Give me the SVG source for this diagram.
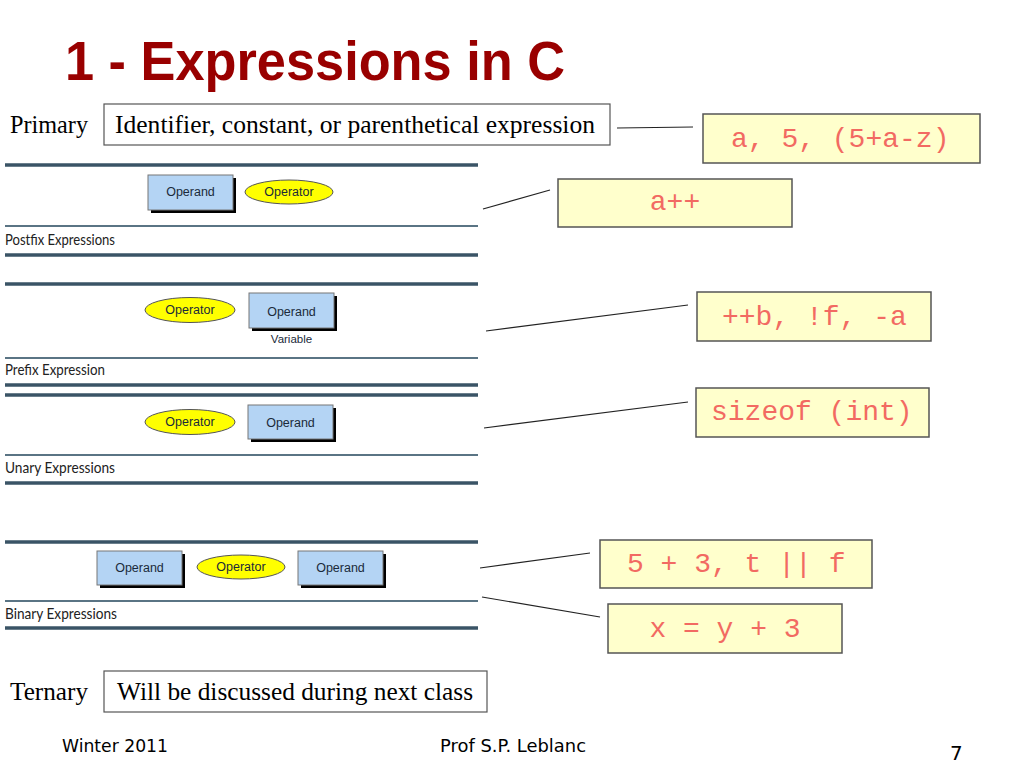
<svg xmlns="http://www.w3.org/2000/svg" width="1024" height="768" viewBox="0 0 1024 768">
<style>
.title{font-family:"Liberation Sans",Arial,sans-serif;font-weight:bold;font-size:55px;fill:#990000}
.serif{font-family:"Liberation Serif","Times New Roman",serif;font-size:25px;fill:#000}
.box{fill:#fff;stroke:#555;stroke-width:1.2}
.ex{fill:#FFFFCC;stroke:#555;stroke-width:1.5}
.mono{font-family:"Liberation Mono","Courier New",monospace;font-size:28px;fill:#F26A62}
.thick{stroke:#3A5466;stroke-width:3.5}
.thin{stroke:#5A7484;stroke-width:2}
.sec{font-family:"Lato","Open Sans",sans-serif;font-size:15px;fill:#222}
.opd{fill:#B4D4F4;stroke:#777;stroke-width:1}
.shadow{fill:#000}
.opr{fill:#FFFF00;stroke:#555;stroke-width:1}
.small{font-family:"Liberation Sans",Arial,sans-serif;font-size:12.5px;fill:#1a2a3a}
.conn line{stroke:#222;stroke-width:1.2}
.foot{font-family:"DejaVu Sans",Tahoma,sans-serif;font-size:18px;fill:#000}
</style>
<rect width="1024" height="768" fill="#fff"/>
<text class="title" x="65" y="80" textLength="500" lengthAdjust="spacingAndGlyphs">1 - Expressions in C</text>

<g id="primary">
<text class="serif" x="10" y="133" textLength="78" lengthAdjust="spacingAndGlyphs">Primary</text>
<rect class="box" x="104" y="104" width="506" height="41"/>
<text class="serif" x="115" y="133" textLength="480" lengthAdjust="spacingAndGlyphs">Identifier, constant, or parenthetical expression</text>
</g>
<g id="ex-primary">
<rect class="ex" x="703" y="114" width="277" height="49"/>
<text class="mono" x="731" y="147">a, 5, (5+a-z)</text>
</g>

<g id="postfix">
<line class="thick" x1="5" y1="165" x2="478" y2="165"/>
<rect class="shadow" x="151" y="178" width="85" height="35"/>
<rect class="opd" x="148" y="175" width="85" height="35"/>
<text class="small" x="190.5" y="196" text-anchor="middle">Operand</text>
<ellipse class="opr" cx="289" cy="192" rx="44" ry="12"/>
<text class="small" x="289" y="196" text-anchor="middle">Operator</text>
<line class="thin" x1="5" y1="226" x2="478" y2="226"/>
<text class="sec" x="5" y="245" textLength="110" lengthAdjust="spacingAndGlyphs">Postfix Expressions</text>
<line class="thick" x1="5" y1="255" x2="478" y2="255"/>
</g>
<g id="ex-postfix">
<rect class="ex" x="558" y="179" width="234" height="48"/>
<text class="mono" x="675" y="210" text-anchor="middle">a++</text>
</g>

<g id="prefix">
<line class="thick" x1="5" y1="284" x2="478" y2="284"/>
<ellipse class="opr" cx="190" cy="310" rx="45" ry="12.5"/>
<text class="small" x="190" y="314" text-anchor="middle">Operator</text>
<rect class="shadow" x="252" y="296" width="85" height="35"/>
<rect class="opd" x="249" y="293" width="85" height="35"/>
<text class="small" x="291.5" y="316" text-anchor="middle">Operand</text>
<text class="small" x="291.5" y="343" text-anchor="middle" style="font-size:11.5px">Variable</text>
<line class="thin" x1="5" y1="358" x2="478" y2="358"/>
<text class="sec" x="5" y="375" textLength="100" lengthAdjust="spacingAndGlyphs">Prefix Expression</text>
<line class="thick" x1="5" y1="385" x2="478" y2="385"/>
</g>
<g id="ex-prefix">
<rect class="ex" x="697" y="292" width="234" height="49"/>
<text class="mono" x="722" y="325">++b, !f, -a</text>
</g>

<g id="unary">
<line class="thick" x1="5" y1="395" x2="478" y2="395"/>
<ellipse class="opr" cx="190" cy="422" rx="45" ry="12.5"/>
<text class="small" x="190" y="426" text-anchor="middle">Operator</text>
<rect class="shadow" x="251" y="408" width="85" height="34"/>
<rect class="opd" x="248" y="405" width="85" height="34"/>
<text class="small" x="290.5" y="427" text-anchor="middle">Operand</text>
<line class="thin" x1="5" y1="455" x2="478" y2="455"/>
<text class="sec" x="5" y="473" textLength="110" lengthAdjust="spacingAndGlyphs">Unary Expressions</text>
<line class="thick" x1="5" y1="483" x2="478" y2="483"/>
</g>
<g id="ex-unary">
<rect class="ex" x="696" y="388" width="233" height="49"/>
<text class="mono" x="711" y="420">sizeof (int)</text>
</g>

<g id="binary">
<line class="thick" x1="5" y1="542" x2="478" y2="542"/>
<rect class="shadow" x="100" y="554" width="85" height="34"/>
<rect class="opd" x="97" y="551" width="85" height="34"/>
<text class="small" x="139.5" y="572" text-anchor="middle">Operand</text>
<ellipse class="opr" cx="241" cy="567" rx="44" ry="12"/>
<text class="small" x="241" y="571" text-anchor="middle">Operator</text>
<rect class="shadow" x="301" y="554" width="85" height="34"/>
<rect class="opd" x="298" y="551" width="85" height="34"/>
<text class="small" x="340.5" y="572" text-anchor="middle">Operand</text>
<line class="thin" x1="5" y1="601" x2="478" y2="601"/>
<text class="sec" x="5" y="619" textLength="112" lengthAdjust="spacingAndGlyphs">Binary Expressions</text>
<line class="thick" x1="5" y1="628" x2="478" y2="628"/>
</g>
<g id="ex-binary1">
<rect class="ex" x="600" y="540" width="272" height="48"/>
<text class="mono" x="627" y="572">5 + 3, t || f</text>
</g>
<g id="ex-binary2">
<rect class="ex" x="608" y="604" width="234" height="49"/>
<text class="mono" x="725" y="637" text-anchor="middle">x = y + 3</text>
</g>

<g id="ternary">
<text class="serif" x="10" y="700" textLength="78" lengthAdjust="spacingAndGlyphs">Ternary</text>
<rect class="box" x="104" y="671" width="383" height="41"/>
<text class="serif" x="117" y="700" textLength="356" lengthAdjust="spacingAndGlyphs">Will be discussed during next class</text>
</g>

<g class="conn" id="connectors">
<line x1="617" y1="128" x2="693" y2="127"/>
<line x1="483" y1="209" x2="550" y2="190"/>
<line x1="486" y1="331" x2="688" y2="305"/>
<line x1="484" y1="428" x2="688" y2="402"/>
<line x1="480" y1="568" x2="590" y2="553"/>
<line x1="482" y1="597" x2="600" y2="617"/>
</g>

<g id="footer">
<text class="foot" x="62" y="752" textLength="106" lengthAdjust="spacingAndGlyphs">Winter 2011</text>
<text class="foot" x="440" y="752" textLength="146" lengthAdjust="spacingAndGlyphs">Prof S.P. Leblanc</text>
<text class="foot" x="950" y="760" style="font-size:20px">7</text>
</g>
</svg>
